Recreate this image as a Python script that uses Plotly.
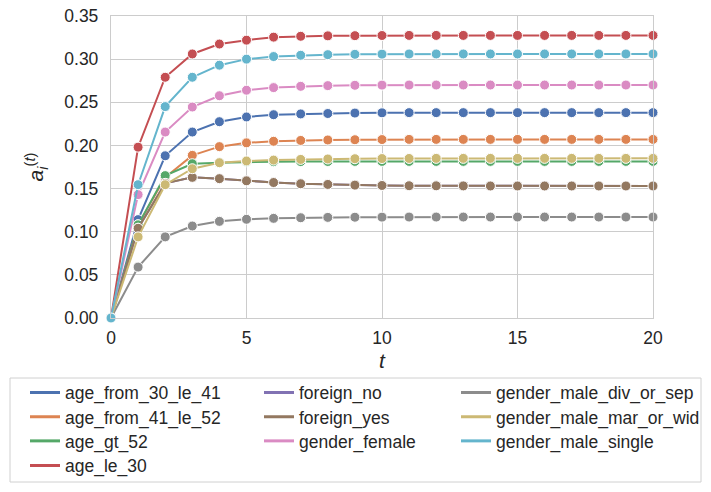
import plotly.graph_objects as go

t = list(range(0, 21))

names = ["age_from_30_le_41", "age_from_41_le_52", "age_gt_52", "age_le_30",
         "foreign_no", "foreign_yes", "gender_female", "gender_male_div_or_sep",
         "gender_male_mar_or_wid", "gender_male_single"]
colors = ["#4C72B0", "#DD8452", "#55A868", "#C44E52", "#8172B3",
          "#937860", "#DA8BC3", "#8C8C8C", "#CCB974", "#64B5CD"]

age_from_30_le_41 = [0.0, 0.114, 0.188, 0.2155, 0.2275, 0.233, 0.2356, 0.2365, 0.237, 0.2375, 0.2378,
                     0.238, 0.238, 0.238, 0.238, 0.238, 0.238, 0.238, 0.238, 0.238, 0.238]
age_from_41_le_52 = [0.0, 0.108, 0.163, 0.1885, 0.1986, 0.203, 0.2048, 0.2058, 0.2063, 0.2066, 0.2068,
                     0.207, 0.207, 0.207, 0.207, 0.207, 0.207, 0.207, 0.207, 0.207, 0.207]
age_gt_52 = [0.0, 0.108, 0.165, 0.1788, 0.180, 0.181, 0.1812, 0.1813, 0.1814, 0.1815, 0.1815,
             0.1815, 0.1815, 0.1815, 0.1815, 0.1815, 0.1815, 0.1815, 0.1815, 0.1815, 0.1815]
age_le_30 = [0.0, 0.198, 0.279, 0.306, 0.3175, 0.322, 0.3255, 0.3265, 0.327, 0.3272, 0.3274,
             0.3275, 0.3275, 0.3275, 0.3275, 0.3275, 0.3275, 0.3275, 0.3275, 0.3275, 0.3275]
foreign_no = [0.0, 0.104, 0.156, 0.163, 0.1615, 0.159, 0.157, 0.1556, 0.1548, 0.154, 0.1536,
              0.1533, 0.1532, 0.1531, 0.153, 0.153, 0.153, 0.153, 0.153, 0.153, 0.153]
foreign_yes = [0.0, 0.104, 0.156, 0.163, 0.1615, 0.159, 0.157, 0.1556, 0.1548, 0.154, 0.1536,
               0.1533, 0.1532, 0.1531, 0.153, 0.153, 0.153, 0.153, 0.153, 0.153, 0.153]
gender_female = [0.0, 0.143, 0.2155, 0.2445, 0.2576, 0.264, 0.267, 0.2685, 0.2693, 0.2697, 0.2699,
                 0.270, 0.270, 0.270, 0.270, 0.270, 0.270, 0.270, 0.270, 0.270, 0.270]
gender_male_div_or_sep = [0.0, 0.059, 0.094, 0.1066, 0.112, 0.1144, 0.1155, 0.1162, 0.1166, 0.1168, 0.1169,
                          0.117, 0.117, 0.117, 0.117, 0.117, 0.117, 0.117, 0.117, 0.117, 0.117]
gender_male_mar_or_wid = [0.0, 0.094, 0.1545, 0.173, 0.180, 0.182, 0.183, 0.1838, 0.1843, 0.1846, 0.1848,
                          0.1849, 0.185, 0.185, 0.185, 0.185, 0.185, 0.185, 0.185, 0.185, 0.185]
gender_male_single = [0.0, 0.1545, 0.245, 0.279, 0.293, 0.300, 0.303, 0.3045, 0.3052, 0.3056, 0.3058,
                      0.306, 0.306, 0.306, 0.306, 0.306, 0.306, 0.306, 0.306, 0.306, 0.306]

series = [age_from_30_le_41, age_from_41_le_52, age_gt_52, age_le_30, foreign_no,
          foreign_yes, gender_female, gender_male_div_or_sep, gender_male_mar_or_wid, gender_male_single]

y_ticks = [0.0, 0.05, 0.10, 0.15, 0.20, 0.25, 0.30, 0.35]
y_tick_labels = ["0.00", "0.05", "0.10", "0.15", "0.20", "0.25", "0.30", "0.35"]
x_ticks = [0, 5, 10, 15, 20]

FONT = "Liberation Sans, Arial"
FS = 17.5

W, H = 711, 492
# plot area in pixels (figure coordinates)
PL, PT, PW, PH = 111, 16, 542, 302


def px_x(px):
    return (px - PL) / PW


def px_y(py):
    return (PT + PH - py) / PH


fig = go.Figure()
for name, col, vals in zip(names, colors, series):
    fig.add_trace(go.Scatter(
        x=t, y=vals, mode="lines+markers", name=name, showlegend=False,
        line=dict(color=col, width=2),
        marker=dict(color=col, size=10, line=dict(color="white", width=1)),
        cliponaxis=False,
    ))

# legend layout: 3 columns (column-major), rows of fixed spacing
col_text_px = [65, 299, 496]
row_px = [392.5, 416.8, 441.0, 465.5]
col_sizes = [4, 3, 3]
layout_legends = {}
k = 0
for c, n in enumerate(col_sizes):
    for r in range(n):
        name = names[k]
        lid = "legend" if k == 0 else f"legend{k + 1}"
        fig.add_trace(go.Scatter(
            x=[None], y=[None], mode="lines", name=name, showlegend=True,
            line=dict(color=colors[k], width=3), legend=lid,
        ))
        layout_legends[lid] = dict(
            x=px_x(col_text_px[c] - 40), y=px_y(row_px[r]),
            xanchor="left", yanchor="middle", xref="paper", yref="paper",
            font=dict(family=FONT, size=FS, color="#262626"),
            bgcolor="rgba(0,0,0,0)", borderwidth=0, orientation="v",
        )
        k += 1

fig.update_layout(
    width=W, height=H,
    margin=dict(l=PL, r=W - PL - PW, t=PT, b=H - PT - PH, autoexpand=False),
    paper_bgcolor="white", plot_bgcolor="white",
    font=dict(family=FONT, size=FS, color="#262626"),
    xaxis=dict(range=[0, 20], tickvals=x_ticks, showgrid=True, gridcolor="#cccccc", gridwidth=1,
               showline=True, linecolor="#cccccc", linewidth=1.3, mirror=True, zeroline=False,
               ticks="", tickfont=dict(size=FS), ticklabelstandoff=4, ticklabeloverflow="allow",
               title=dict(text="<i>t</i>", font=dict(size=21), standoff=6)),
    yaxis=dict(range=[0, 0.35], tickvals=y_ticks, ticktext=y_tick_labels, showgrid=True,
               gridcolor="#cccccc", gridwidth=1, showline=True, linecolor="#cccccc", linewidth=1.3,
               mirror=True, zeroline=False, ticks="", tickfont=dict(size=FS), ticklabelstandoff=8,
               ticklabeloverflow="allow",
               title=dict(text="<i>a</i><sub><i>i</i></sub><sup>(<i>t</i>)</sup>", font=dict(size=21), standoff=14)),
    **layout_legends,
)
fig.add_shape(type="rect", xref="paper", yref="paper",
              x0=px_x(10), x1=px_x(701), y0=px_y(482), y1=px_y(378),
              line=dict(color="#d0d0d0", width=1), fillcolor="rgba(0,0,0,0)", layer="above")

fig.write_html("out.html", config={"displayModeBar": False},
               post_script="document.body.style.margin='0';document.body.style.overflow='hidden';")
